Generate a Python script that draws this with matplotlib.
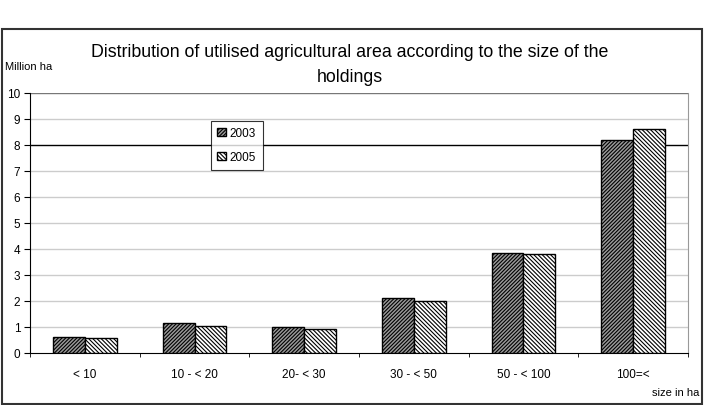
import matplotlib
matplotlib.use("Agg")
import matplotlib.pyplot as plt
import numpy as np
from matplotlib.patches import Rectangle

plt.rcParams['font.family'] = ['Liberation Sans', 'DejaVu Sans']
plt.rcParams['hatch.linewidth'] = 0.8

categories = ["< 10", "10 - < 20", "20- < 30", "30 - < 50", "50 - < 100", "100=<"]
series_names = ["2003", "2005"]
values_2003 = [0.60, 1.15, 1.00, 2.10, 3.85, 8.20]
values_2005 = [0.57, 1.05, 0.92, 2.00, 3.80, 8.60]
yticks = list(range(0, 11))

W, H = 704, 406
fig = plt.figure(figsize=(W/100, H/100), dpi=100)

# outer chart frame
fig.patches.append(Rectangle((2/W, 1/H), 700/W, (H-31)/H, transform=fig.transFigure,
                             fill=False, edgecolor='#333333', linewidth=1.5))

ax = fig.add_axes([30/W, (H-354)/H, (688-30)/W, (354-94)/H])
x = np.arange(len(categories))
bw = 0.29
ax.bar(x - bw/2, values_2003, bw, facecolor='#9a9a9a', edgecolor='black',
       hatch='/////////', linewidth=1.0, label=series_names[0], zorder=3)
ax.bar(x + bw/2, values_2005, bw, facecolor='white', edgecolor='black',
       hatch='\\\\\\\\\\\\\\\\', linewidth=1.0, label=series_names[1], zorder=3)

ax.set_xlim(-0.5, len(categories) - 0.5)
ax.set_ylim(0, 10)
ax.set_yticks(yticks)
ax.set_yticklabels([str(t) for t in yticks], fontsize=8.5)
ax.set_xticks(x)
ax.set_xticklabels(categories, fontsize=8.5)
ax.tick_params(axis='x', length=0, pad=11)
ax.set_xticks(np.arange(-0.5, len(categories)), minor=True)
ax.tick_params(axis='x', which='minor', length=3, direction='out')
ax.tick_params(axis='y', length=4, direction='out', pad=3)

for t in yticks:
    if t == 8:
        ax.axhline(t, color='black', linewidth=1.0, zorder=1)
    elif t == 10:
        ax.axhline(t, color='#777777', linewidth=1.0, zorder=1)
    elif t > 0:
        ax.axhline(t, color='#cccccc', linewidth=1.0, zorder=1)

ax.spines['top'].set_visible(False)
ax.spines['right'].set_color('#999999')
ax.spines['left'].set_color('black')
ax.spines['bottom'].set_color('black')

leg = ax.legend(loc='upper left', bbox_to_anchor=((211-30)/658, (354-122)/260),
                fontsize=8.5, frameon=True, fancybox=False, edgecolor='black',
                handlelength=0.7, handleheight=0.7, borderpad=0.55, labelspacing=1.0,
                handletextpad=0.35, borderaxespad=0)
leg.get_frame().set_linewidth(0.8)

fig.text(350/W, 1 - 65/H, "Distribution of utilised agricultural area according to the size of the\nholdings",
         ha='center', va='center', fontsize=12.8, linespacing=1.6)
fig.text(5/W, 1 - 67/H, "Million ha", fontsize=8, ha='left', va='center')
fig.text(699/W, 1 - 393/H, "size in ha", fontsize=8, ha='right', va='center')

fig.savefig("out.png", dpi=100)
